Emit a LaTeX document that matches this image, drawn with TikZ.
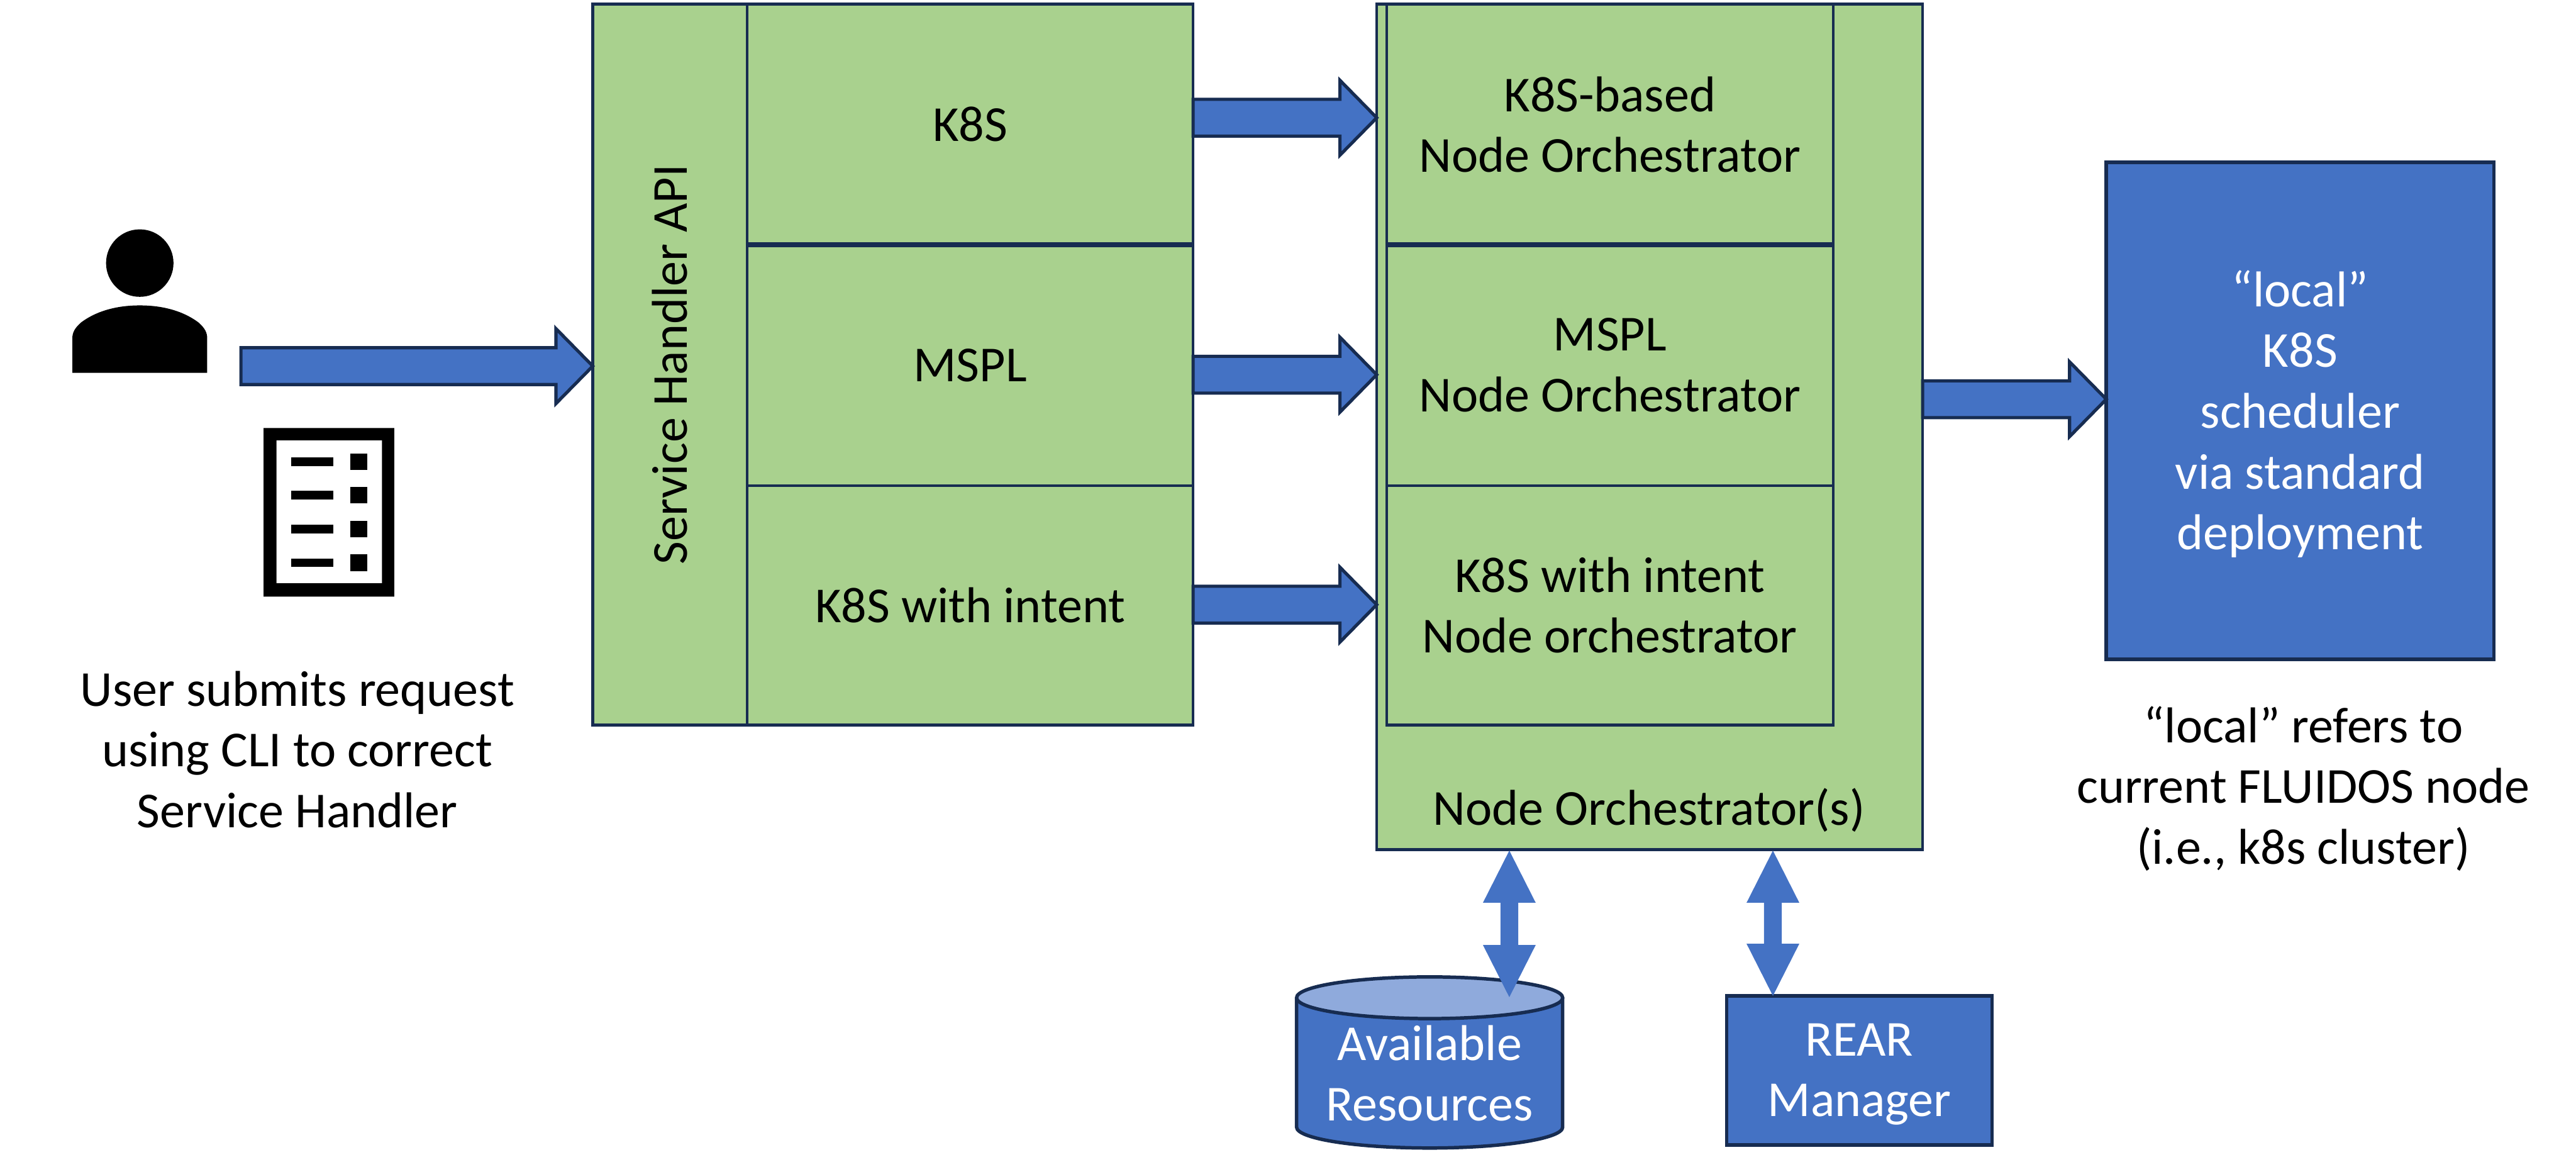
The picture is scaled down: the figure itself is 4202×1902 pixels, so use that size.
\documentclass[tikz,border=0pt]{standalone}
\usepackage{fontspec}
\setmainfont{Carlito}
\usetikzlibrary{calc}
\definecolor{grn}{HTML}{A9D18E}
\definecolor{blu}{HTML}{4472C4}
\definecolor{lblu}{HTML}{8FAADC}
\definecolor{edge}{HTML}{172C51}
\tikzset{
  x=0.01cm,y=-0.01cm,
  every node/.style={font=\fontsize{23.35}{28.2}\selectfont,align=center,inner sep=0pt,outer sep=0pt},
  greenbox/.style={draw=edge,fill=grn,line width=1.3pt,rectangle},
  bluebox/.style={draw=edge,fill=blu,line width=1.6pt,rectangle,text=white},
  whitetext/.style={text=white},
  bigarrow/.style={draw=edge,fill=blu,line width=1.5pt,line join=miter,
    to path={($(\tikztostart)+(0,-#1)$) -- ($(\tikztotarget)+(-60,-#1)$) -- ($(\tikztotarget)+(-60,-61)$) -- (\tikztotarget)
      -- ($(\tikztotarget)+(-60,61)$) -- ($(\tikztotarget)+(-60,#1)$) -- ($(\tikztostart)+(0,#1)$) -- cycle}},
  bigarrow/.default=30,
  twoway/.style={fill=blu,draw=none,
    to path={(\tikztostart) -- ($(\tikztostart)+(43,85)$) -- ($(\tikztostart)+(14.5,85)$) -- ($(\tikztotarget)+(14.5,-85)$)
      -- ($(\tikztotarget)+(43,-85)$) -- (\tikztotarget) -- ($(\tikztotarget)+(-43,-85)$) -- ($(\tikztotarget)+(-14.5,-85)$)
      -- ($(\tikztostart)+(-14.5,85)$) -- ($(\tikztostart)+(-43,85)$) -- cycle}},
  iconpart/.style={fill=black,draw=none}
}
\begin{document}
\begin{tikzpicture}
\useasboundingbox (0,0) rectangle (4202,1902);
% user icon
\fill[iconpart] (228,429) circle (55);
\fill[iconpart] (118,608) -- (118,552) .. controls (118,542) and (122,535) .. (132,526)
  .. controls (160,505) and (195,498) .. (228,498) .. controls (261,498) and (296,505) .. (324,526)
  .. controls (334,535) and (338,542) .. (338,552) -- (338,608) -- cycle;
% list icon
\fill[iconpart,even odd rule] (430,698) rectangle (643,973) (451,718) rectangle (623,951);
\foreach \yy in {753,807.5,862.5,917.5}{
  \fill[iconpart] (475,\yy-7) rectangle (544,\yy+7);
  \fill[iconpart] (571,\yy-13.5) rectangle (599,\yy+13.5);
}
\node (usertxt) at (485,1222) {User submits request\\using CLI to correct\\Service Handler};
\coordinate (userout) at (393,597);
% service handler
\node[greenbox,rotate=90,minimum width=11.75cm,minimum height=2.52cm] (svcapi) at (1093,594.5) {Service Handler API};
\node[greenbox,minimum width=7.27cm,minimum height=3.92cm] (svcA) at (1582.5,203) {K8S};
\node[greenbox,minimum width=7.27cm,minimum height=3.93cm] (svcB) at (1582.5,595.5) {MSPL};
\node[greenbox,minimum width=7.27cm,minimum height=3.90cm] (svcC) at (1582.5,987) {K8S with intent};
% orchestrator
\node[greenbox,minimum width=8.90cm,minimum height=13.78cm] (orch) at (2691,696) {};
\node (orchtxt) at (2690,1321) {Node Orchestrator(s)};
\node[greenbox,minimum width=7.28cm,minimum height=3.92cm] (orA) at (2626,203) {K8S-based\\Node Orchestrator};
\node[greenbox,minimum width=7.28cm,minimum height=3.93cm] (orB) at (2626,595.5) {MSPL\\Node Orchestrator};
\node[greenbox,minimum width=7.28cm,minimum height=3.90cm] (orC) at (2626,987) {K8S with intent\\Node orchestrator};
\draw[edge,line width=2.4pt] (orA.south west) -- (orA.south east);
\draw[edge,line width=2.4pt] (svcA.south west) -- (svcA.south east);
% scheduler
\node[bluebox,minimum width=6.32cm,minimum height=8.10cm] (sched) at (3752,670) {};
\node[whitetext] (schedlabel) at (3752,675) {“local”\\K8S\\scheduler\\via standard\\deployment};
\node (schedtxt) at (3757,1286) {“local” refers to\\current FLUIDOS node\\(i.e., k8s cluster)};
% resources
\fill[blu] (2115,1627) -- (2115,1838) arc[start angle=180,end angle=0,x radius=217,y radius=34] -- (2549,1627) -- cycle;
\draw[edge,line width=1.6pt] (2115,1627) -- (2115,1838) arc[start angle=180,end angle=0,x radius=217,y radius=34] -- (2549,1627);
\draw[edge,fill=lblu,line width=1.6pt] (2332,1627) ellipse[x radius=217,y radius=34];
\node[whitetext] (res) at (2332,1750) {Available\\Resources};
\node[bluebox,minimum width=4.33cm,minimum height=2.43cm] (rear) at (3033,1745.5) {};
\node[whitetext] (reartxt) at (3033,1752) {REAR\\Manager};
% connectors
\coordinate (a1s) at (svcA.east |- 0,192); \coordinate (a1t) at (orch.west |- 0,192);
\coordinate (a2s) at (svcB.east |- 0,611); \coordinate (a2t) at (orch.west |- 0,611);
\coordinate (a3s) at (svcC.east |- 0,986); \coordinate (a3t) at (orch.west |- 0,986);
\coordinate (a4s) at (orch.east |- 0,651); \coordinate (a4t) at (sched.west |- 0,651);
\coordinate (a0t) at (svcapi.north |- 0,597);
\coordinate (d1s) at (2462,1387); \coordinate (d1t) at (2462,1626);
\coordinate (d2s) at (2892,1387); \coordinate (d2t) at (rear.north -| 2892,0);
\draw[bigarrow] (userout) to (a0t);
\draw[bigarrow] (a1s) to (a1t);
\draw[bigarrow] (a2s) to (a2t);
\draw[bigarrow] (a3s) to (a3t);
\draw[bigarrow] (a4s) to (a4t);
\path[twoway] (d1s) to (d1t);
\path[twoway] (d2s) to (d2t);
\end{tikzpicture}
\end{document}
